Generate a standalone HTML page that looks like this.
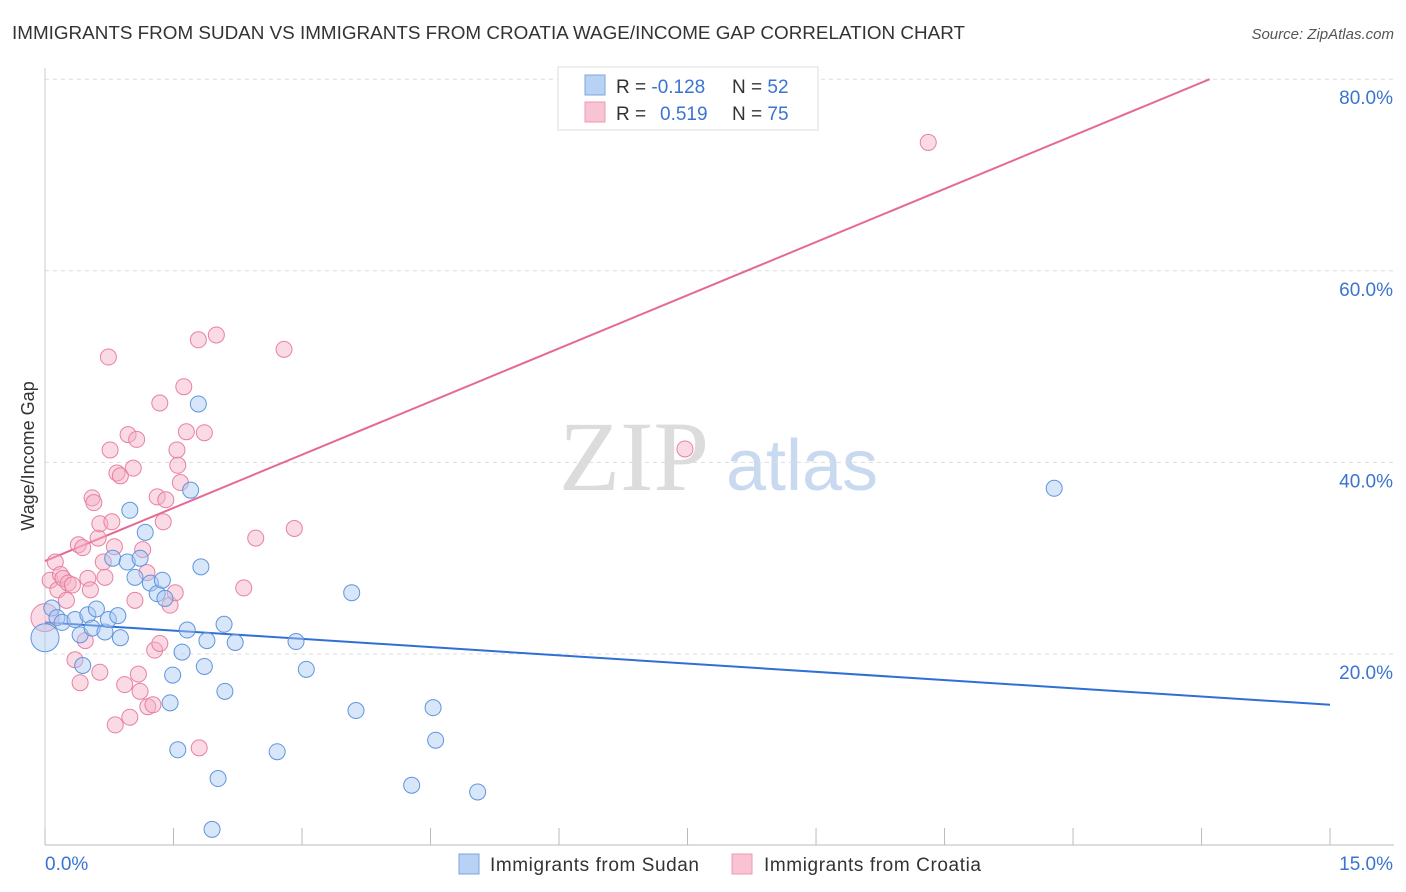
<!DOCTYPE html>
<html><head><meta charset="utf-8"><style>
body{margin:0;background:#fff;font-family:"Liberation Sans",sans-serif}
svg{display:block}
</style></head><body>
<svg id="chart" width="1406" height="892" xmlns="http://www.w3.org/2000/svg">
<text x="12" y="39" font-size="18" fill="#333" textLength="953" lengthAdjust="spacingAndGlyphs">IMMIGRANTS FROM SUDAN VS IMMIGRANTS FROM CROATIA WAGE/INCOME GAP CORRELATION CHART</text>
<text x="1394" y="39" font-size="15" fill="#555" font-style="italic" text-anchor="end">Source: ZipAtlas.com</text>
<g>
<text x="634" y="490" font-size="100" fill="#dcdcdc" font-family="Liberation Serif,serif" text-anchor="middle">ZIP</text>
<text x="802" y="490" font-size="72" fill="#c8d9f0" text-anchor="middle">atlas</text>
</g>
<g id="grid"></g><g id="axes"></g><g id="lines"></g><g id="points"></g>
<text transform="translate(34,456) rotate(-90)" font-size="18" fill="#333" text-anchor="middle">Wage/Income Gap</text>
<g>
<rect x="558" y="67" width="260" height="63" fill="#fff" stroke="#ddd"/>
<rect x="585" y="75" width="20" height="20" fill="#b8d2f4" stroke="#7aa6e0"/>
<rect x="585" y="102" width="20" height="20" fill="#f8c4d3" stroke="#eb9ab3"/>
<text x="616" y="93" font-size="19" fill="#333">R = <tspan fill="#3a74d0">-0.128</tspan><tspan x="732">N = </tspan><tspan fill="#3a74d0">52</tspan></text>
<text x="616" y="120" font-size="19" fill="#333">R = <tspan fill="#3a74d0" x="660">0.519</tspan><tspan x="732">N = </tspan><tspan fill="#3a74d0">75</tspan></text>
</g>
<g>
<rect x="459" y="854" width="20" height="20" fill="#b8d2f4" stroke="#7aa6e0"/>
<text x="490" y="871" font-size="19" fill="#333" textLength="209">Immigrants from Sudan</text>
<rect x="732" y="854" width="20" height="20" fill="#f8c4d3" stroke="#eb9ab3"/>
<text x="764" y="871" font-size="19" fill="#333" textLength="217">Immigrants from Croatia</text>
</g>
</svg>
<script>
const sudanX=[0,.08,.14,.20,.35,.41,.44,.50,.60,.55,.70,.74,.85,.88,.79,.96,.99,1.05,1.11,1.17,1.23,1.31,1.37,1.40,1.46,1.49,1.55,1.60,1.66,1.70,1.79,1.82,1.86,1.89,1.95,2.02,2.09,2.10,2.22,2.71,2.93,3.05,3.58,3.63,4.28,4.53,4.56,5.05,11.78];
const sudanY=[21.7,24.8,23.8,23.3,23.6,22.0,18.8,24.1,24.7,22.7,22.3,23.6,24.0,21.7,30.0,29.6,35.0,28.0,30.0,32.7,27.4,26.3,27.7,25.8,14.9,17.8,10.0,20.2,22.5,37.1,46.1,29.1,18.7,21.4,1.7,7.0,23.1,16.1,21.2,9.8,21.3,18.4,26.4,14.1,6.3,14.4,11.0,5.6,37.3];
const croatiaX=[0,.06,.12,.15,.18,.21,.25,.27,.32,.35,.39,.41,.44,.47,.50,.53,.55,.57,.62,.64,.64,.68,.70,.74,.76,.78,.81,.84,.88,.82,.93,.97,.99,1.03,1.05,1.07,1.09,1.11,1.14,1.19,1.20,1.26,1.28,1.31,1.34,1.34,1.38,1.41,1.46,1.52,1.54,1.55,1.58,1.62,1.65,1.79,1.80,1.86,2.00,2.32,2.46,2.79,2.91,7.47,10.31];
const croatiaY=[23.8,27.7,29.6,26.7,28.3,27.9,25.6,27.4,27.2,19.4,31.4,17.0,31.1,21.4,27.9,26.7,36.3,35.8,32.1,33.6,18.1,29.6,28.0,51.0,41.3,33.8,31.2,38.9,38.6,12.6,16.8,42.9,13.4,39.4,25.6,42.4,17.9,16.1,30.9,28.5,14.5,14.7,20.4,36.4,46.2,21.1,33.8,36.1,25.1,26.4,41.3,39.7,37.9,47.9,43.2,52.8,10.2,43.1,53.3,26.9,32.1,51.8,33.1,41.4,73.4];
const sudanTrend=[23.3,14.7];
const croatiaTrend=[29.7,3.70];
const xTicks=[0,15];
const yTicks=[20,40,60,80];
const NS="http://www.w3.org/2000/svg";
const X=v=>45+v*85.67, Y=v=>845.6-v*9.58;
function mk(tag,attrs,parent){const e=document.createElementNS(NS,tag);for(const k in attrs)e.setAttribute(k,attrs[k]);document.getElementById(parent).appendChild(e);return e;}
yTicks.forEach(t=>{
 const g=mk('line',{x1:45,x2:1394,y1:Y(t),y2:Y(t),stroke:'#ddd','stroke-dasharray':'4,4'},'grid');
 
 
 const l=mk('text',{x:1393,y:Y(t)+25,'font-size':19,fill:'#3a74d0','text-anchor':'end'},'axes');l.textContent=t.toFixed(1)+'%';
 
 
});
let a=mk('line',{x1:45,x2:1394,y1:845,y2:845,stroke:'#bbb'},'axes');


a=mk('line',{x1:45,x2:45,y1:68,y2:845,stroke:'#ccc'},'axes');


for(let i=0;i<=10;i++){const t=mk('line',{x1:X(i*1.5),x2:X(i*1.5),y1:828,y2:845,stroke:'#bbb'},'axes');
 
 }
xTicks.forEach((t,i)=>{const l=mk('text',{x:i?1393:45,y:870,'font-size':19,fill:'#3a74d0','text-anchor':i?'end':'start'},'axes');l.textContent=t.toFixed(1)+'%';
 
 });
function draw(xs,ys,fill,stroke,name){xs.forEach((x,i)=>{const r=i===0?14:8;
 const c=mk('circle',{cx:X(x),cy:Y(ys[i]),r:r,fill:fill,'fill-opacity':0.45,stroke:stroke,'stroke-width':1},'points');
 
 });}
draw(croatiaX,croatiaY,'#f4b0c5','#e8819f','croatia-point');
draw(sudanX,sudanY,'#a8c8f2','#5f95dd','sudan-point');
let ln=mk('line',{x1:X(0),y1:Y(sudanTrend[0]),x2:X(15),y2:Y(sudanTrend[1]),stroke:'#2f6fd6','stroke-width':2},'lines');


const xEnd=(80-croatiaTrend[0])/croatiaTrend[1];
ln=mk('line',{x1:X(0),y1:Y(croatiaTrend[0]),x2:X(xEnd),y2:Y(80),stroke:'#e46a92','stroke-width':2},'lines');


</script>
</body></html>
